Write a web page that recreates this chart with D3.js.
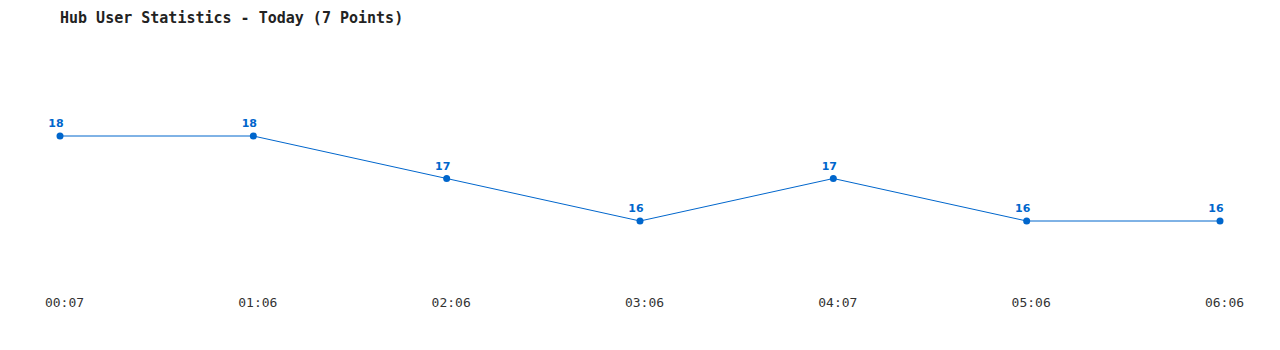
<!DOCTYPE html>
<html>
<head>
<meta charset="utf-8">
<script src="https://cdn.jsdelivr.net/npm/d3@7"></script>
<style>
  body { margin: 0; background: #fff; }
  text { -webkit-font-smoothing: none; }
</style>
</head>
<body>
<div id="chart"></div>
<script>
// data
var times = ["00:07", "01:06", "02:06", "03:06", "04:07", "05:06", "06:06"];
var users = [18, 18, 17, 16, 17, 16, 16];
var chartTitle = "Hub User Statistics - Today (7 Points)";

var width = 1280, height = 350;
var margin = { top: 93.5, right: 60, bottom: 86.5, left: 60 };
var blue = "#0066cc";

var svg = d3.select("#chart")
  .append("svg")
  .attr("width", width)
  .attr("height", height);

// scales
var xScale = d3.scalePoint()
  .domain(times)
  .range([margin.left, width - margin.right]);

var yScale = d3.scaleLinear()
  .domain([d3.min(users) - 1, d3.max(users) + 1])
  .range([height - margin.bottom, margin.top]);

// title
svg.append("text")
  .attr("x", 60)
  .attr("y", 23)
  .attr("font-family", "'DejaVu Sans Mono', monospace")
  .attr("font-size", "15px")
  .attr("font-weight", "bold")
  .attr("fill", "#222")
  .text(chartTitle);

// x axis, labels only
var xAxis = d3.axisBottom(xScale).tickSize(0).tickPadding(0);
var gx = svg.append("g")
  .attr("transform", "translate(4,298)")
  .call(xAxis);
gx.select(".domain").remove();
gx.selectAll("text")
  .attr("font-family", "'DejaVu Sans Mono', monospace")
  .attr("font-size", "13px")
  .attr("fill", "#333");

var points = times.map(function(t, i) { return { t: t, v: users[i] }; });

// line
var line = d3.line()
  .x(function(d) { return xScale(d.t); })
  .y(function(d) { return yScale(d.v); });

svg.append("path")
  .datum(points)
  .attr("fill", "none")
  .attr("stroke", blue)
  .attr("stroke-width", 1)
  .attr("d", line);

// dots
svg.selectAll(".dot")
  .data(points)
  .enter().append("circle")
  .attr("class", "dot")
  .attr("cx", function(d) { return xScale(d.t); })
  .attr("cy", function(d) { return yScale(d.v); })
  .attr("r", 3.5)
  .attr("fill", blue);

// value labels
svg.selectAll(".val")
  .data(points)
  .enter().append("text")
  .attr("class", "val")
  .attr("x", function(d) { return xScale(d.t) - 4; })
  .attr("y", function(d) { return yScale(d.v) - 9; })
  .attr("text-anchor", "middle")
  .attr("font-family", "'DejaVu Sans', Verdana, sans-serif")
  .attr("font-size", "11px")
  .attr("font-weight", "bold")
  .attr("fill", blue)
  .text(function(d) { return d.v; });
</script>
</body>
</html>
